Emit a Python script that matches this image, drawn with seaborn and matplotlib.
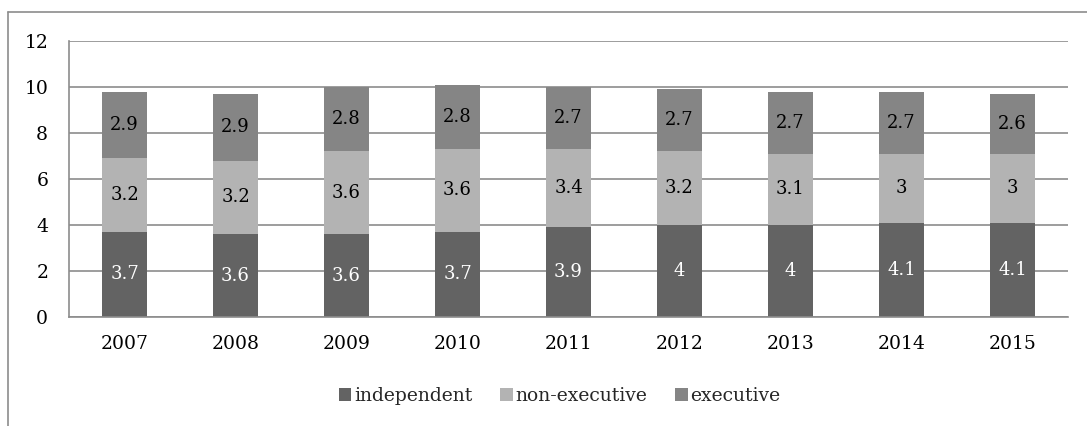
import numpy as np
import pandas as pd
import seaborn as sns
import matplotlib.pyplot as plt
from matplotlib.lines import Line2D
from matplotlib.patches import Patch

# values
years = ['2007', '2008', '2009', '2010', '2011', '2012', '2013', '2014', '2015']
independent = [3.7, 3.6, 3.6, 3.7, 3.9, 4, 4, 4.1, 4.1]
non_executive = [3.2, 3.2, 3.6, 3.6, 3.4, 3.2, 3.1, 3, 3]
executive = [2.9, 2.9, 2.8, 2.8, 2.7, 2.7, 2.7, 2.7, 2.6]

series = ['independent', 'non-executive', 'executive']
colors = {'independent': '#636363', 'non-executive': '#b3b3b3', 'executive': '#858585'}
text_colors = {'independent': 'white', 'non-executive': 'black', 'executive': 'black'}

df = pd.DataFrame({'year': years, 'independent': independent,
                   'non-executive': non_executive, 'executive': executive})
df['lvl1'] = df['independent']
df['lvl2'] = df['lvl1'] + df['non-executive']
df['lvl3'] = df['lvl2'] + df['executive']

sns.set_style('white')
plt.rcParams['font.family'] = ['DejaVu Serif']

fig = plt.figure(figsize=(10.87, 4.26), dpi=100)
ax = fig.add_axes([0.0635, 0.256, 0.919, 0.648])

# stacked bars: draw cumulative totals from the top down
for lvl, name in [('lvl3', 'executive'), ('lvl2', 'non-executive'), ('lvl1', 'independent')]:
    sns.barplot(data=df, x='year', y=lvl, color=colors[name], width=0.4,
                saturation=1, ax=ax, zorder=2, linewidth=0)

# value labels in the middle of each segment
bottoms = np.zeros(len(years))
for name in series:
    vals = df[name].to_numpy()
    for i, v in enumerate(vals):
        ax.text(i, bottoms[i] + v / 2, f'{v:g}', ha='center', va='center',
                fontsize=13, color=text_colors[name], zorder=3)
    bottoms = bottoms + vals

ax.set_ylim(0, 12)
ax.set_yticks(range(0, 13, 2))
ax.set_xlim(-0.5, len(years) - 0.5)
ax.yaxis.grid(True, color='#8c8c8c', linewidth=1.2, zorder=0)
ax.set_axisbelow(True)
ax.set_xlabel('')
ax.set_ylabel('')
ax.tick_params(axis='both', length=0, labelsize=13.5, colors='black')
ax.tick_params(axis='y', pad=15)
ax.tick_params(axis='x', pad=13)
for side in ['top', 'right']:
    ax.spines[side].set_visible(False)
for side in ['left', 'bottom']:
    ax.spines[side].set_color('#8c8c8c')
    ax.spines[side].set_linewidth(1.2)

handles = [Patch(facecolor=colors[s], edgecolor='none') for s in series]
fig.legend(handles, series, loc='center', bbox_to_anchor=(0.515, 0.07), ncol=3,
           frameon=False, fontsize=13.5, handlelength=0.65, handleheight=0.65,
           handletextpad=0.15, columnspacing=1.5)

# outer chart border (cut off on the right and bottom)
fig.add_artist(Line2D([8 / 1087, 1.0], [1 - 12 / 426, 1 - 12 / 426],
                      color='#8c8c8c', linewidth=1.2))
fig.add_artist(Line2D([8 / 1087, 8 / 1087], [0.0, 1 - 12 / 426],
                      color='#8c8c8c', linewidth=1.2))

fig.savefig('out.png', dpi=100)
